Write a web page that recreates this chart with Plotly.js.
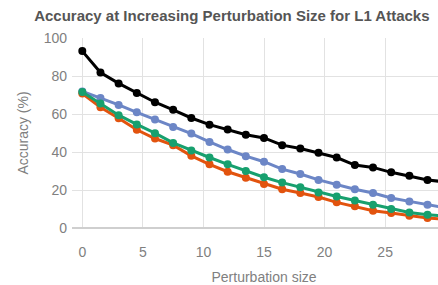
<!DOCTYPE html>
<html>
<head>
<meta charset="utf-8">
<script src="https://cdn.plot.ly/plotly-3.0.1.min.js"></script>
<style>
html,body{margin:0;padding:0;overflow:hidden;background:#fff;width:438px;height:285px;}
#chart{width:480px;height:285px;}
</style>
</head>
<body>
<div id="chart"></div>
<script>
const perturbation = [0, 1.5, 3, 4.5, 6, 7.5, 9, 10.5, 12, 13.5, 15, 16.5, 18, 19.5, 21, 22.5, 24, 25.5, 27, 28.5, 30];
const seriesBlack = [93.1, 81.8, 76.1, 71.0, 66.2, 62.2, 57.9, 54.4, 51.9, 49.1, 47.4, 43.6, 41.8, 39.6, 37.1, 33.1, 31.9, 29.3, 27.5, 25.3, 24.2];
const seriesBlue  = [71.9, 68.4, 64.8, 60.9, 57.1, 53.1, 49.7, 45.3, 41.3, 37.8, 34.9, 31.0, 28.4, 25.3, 22.7, 20.4, 18.4, 15.8, 14.0, 12.3, 10.6];
const seriesRed   = [70.8, 63.5, 57.8, 51.7, 47.1, 43.6, 38.0, 33.5, 29.6, 26.5, 23.2, 20.4, 18.4, 16.3, 13.5, 11.4, 9.1, 7.9, 6.5, 5.3, 4.5];
const seriesGreen = [71.6, 65.5, 59.4, 54.5, 49.9, 44.8, 40.8, 37.1, 33.5, 30.0, 26.7, 23.9, 21.5, 18.7, 16.6, 14.5, 12.3, 10.0, 8.2, 7.0, 6.2];
const xTickVals = [0, 5, 10, 15, 20, 25, 30];
const yTickVals = [0, 20, 40, 60, 80, 100];

function tr(y, color){
  return {x: perturbation, y: y, type: 'scatter', mode: 'lines+markers',
    line: {color: color, width: 3}, marker: {color: color, size: 8}, hoverinfo: 'skip'};
}
const data = [
  tr(seriesBlack, '#000000'),
  tr(seriesBlue, '#6c86c6'),
  tr(seriesRed, '#e2530e'),
  tr(seriesGreen, '#17a06e')
];
const layout = {
  width: 480, height: 285,
  margin: {l: 72, r: 24, t: 38, b: 57},
  paper_bgcolor: '#fff', plot_bgcolor: '#fff',
  showlegend: false,
  font: {family: 'Liberation Sans, Arial, sans-serif', color: '#808080', size: 14},
  title: {text: '<b>Accuracy at Increasing Perturbation Size for L1 Attacks</b>',
    font: {size: 15, color: '#555'}, xref: 'container', x: 0.483, xanchor: 'center',
    yref: 'container', y: 0.944, yanchor: 'middle'},
  xaxis: {range: [-0.85, 30.85], tickvals: xTickVals, showgrid: true, gridcolor: '#e2e2e2',
    zeroline: false, showline: false, ticks: '', ticklabelstandoff: 14,
    tickfont: {size: 14, color: '#808080'},
    title: {text: 'Perturbation size', font: {size: 14, color: '#808080'}, standoff: 16}},
  yaxis: {range: [0, 100], tickvals: yTickVals, showgrid: true, gridcolor: '#e2e2e2',
    zeroline: true, zerolinecolor: '#cfcfcf', zerolinewidth: 1.5, showline: false, ticks: '',
    ticklabelstandoff: 4,
    tickfont: {size: 14, color: '#808080'},
    title: {text: 'Accuracy (%)', font: {size: 14, color: '#808080'}, standoff: 11}}
};
Plotly.newPlot('chart', data, layout, {displayModeBar: false, staticPlot: true});
</script>
</body>
</html>
